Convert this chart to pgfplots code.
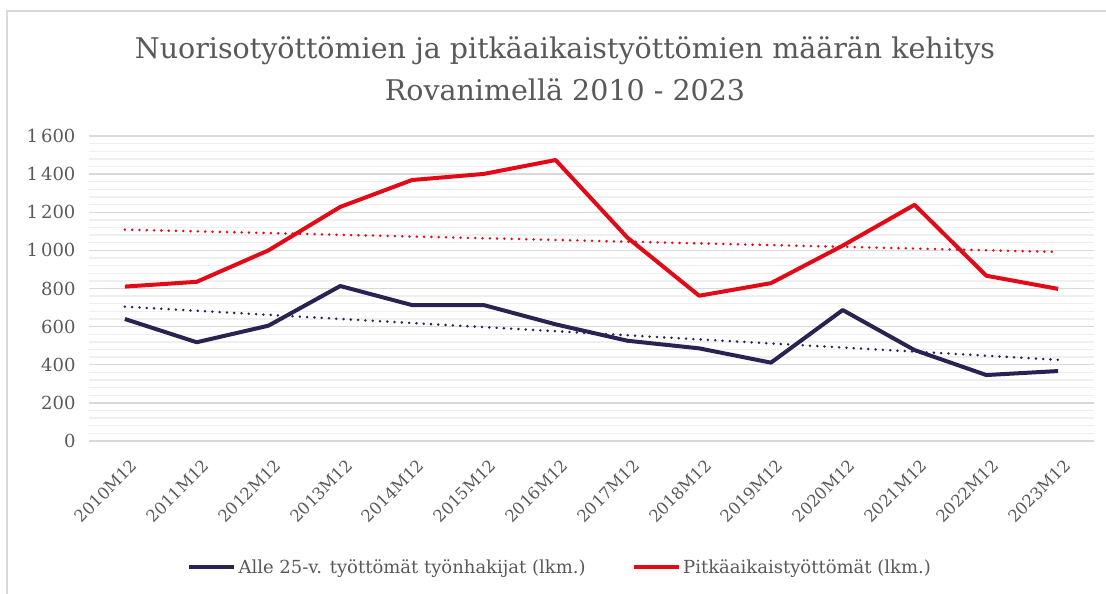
\documentclass[border=0pt]{standalone}
\usepackage{pgfplots}
\usepackage{pgfplotstable}
\pgfplotsset{compat=1.18}
\usepackage{fontspec}
\setmainfont{DejaVu Serif}
\definecolor{navyc}{HTML}{2A2352}
\definecolor{redc}{HTML}{E30A17}
\definecolor{txt}{HTML}{595959}
\definecolor{gmaj}{HTML}{D9D9D9}
\definecolor{gmin}{HTML}{EFEFEF}
\pgfplotstableread{
x red navy
0 810 640
1 835 518
2 1000 605
3 1228 813
4 1369 713
5 1401 713
6 1474 612
7 1067 526
8 762 486
9 828 411
10 1025 687
11 1239 477
12 867 346
13 798 367
}\datatable
\begin{document}
\begin{tikzpicture}
\useasboundingbox (-89pt,-153pt) rectangle (1017pt,441pt);
\fill[white] (-89pt,-153pt) rectangle (1017pt,441pt);
\draw[gmaj, line width=1.6pt] (-82pt,-160pt) -- (-82pt,430pt) -- (1030pt,430pt);
\node[txt, align=center, font=\fontsize{28.5}{42}\selectfont] at (476pt,372pt) {Nuorisotyöttömien ja pitkäaikaistyöttömien määrän kehitys\\Rovanimellä 2010 - 2023};
\begin{axis}[
  at={(0pt,0pt)}, anchor=south west,
  scale only axis, width=1005pt, height=305pt,
  xmin=-0.5, xmax=13.5, ymin=0, ymax=1600,
  axis line style={draw=none},
  xtick=data,
  xticklabels={2010M12,2011M12,2012M12,2013M12,2014M12,2015M12,2016M12,2017M12,2018M12,2019M12,2020M12,2021M12,2022M12,2023M12},
  ytick={0,200,...,1600},
  minor y tick num=4,
  ymajorgrids, yminorgrids,
  major grid style={gmaj, line width=1.3pt},
  minor grid style={gmin, line width=1.3pt},
  major tick length=0pt, minor tick length=0pt,
  tick label style={txt, font=\fontsize{18}{20}\selectfont},
  /pgf/number format/assume math mode=true,
  /pgf/number format/1000 sep={\,},
  yticklabel style={xshift=-10pt},
  xticklabel style={font=\fontsize{16.5}{18}\selectfont, xshift=10pt, yshift=-21pt, rotate=45, anchor=east, inner sep=1pt},
  legend columns=2,
  legend style={at={(axis description cs:0.4686,-0.413)}, anchor=center, draw=none, fill=none,
    font=\fontsize{18}{20}\selectfont, text=txt,
    /tikz/every even column/.append style={column sep=44pt},
    inner sep=0pt},
  legend cell align=left,
  legend image code/.code={\draw[#1, line width=4.5pt] (0pt,0pt) -- (45pt,0pt);},
  clip=false,
]
\addplot[navyc, line width=4pt, line join=round] table[x=x, y=navy] \datatable;
\addlegendentry{Alle 25-v. työttömät työnhakijat (lkm.)}
\addplot[redc, line width=4pt, line join=round] table[x=x, y=red] \datatable;
\addlegendentry{Pitkäaikaistyöttömät (lkm.)}
\addplot[navyc, line width=2.8pt, line cap=round, dash pattern=on 0pt off 7.3pt, forget plot] table[x=x, y={create col/linear regression={y=navy}}] \datatable;
\addplot[redc, line width=2.8pt, line cap=round, dash pattern=on 0pt off 7.3pt, forget plot] table[x=x, y={create col/linear regression={y=red}}] \datatable;
\end{axis}
\end{tikzpicture}
\end{document}
